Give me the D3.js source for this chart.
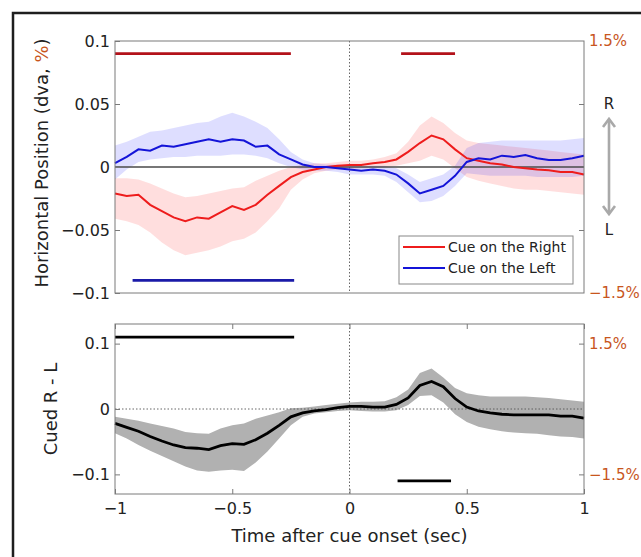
<!DOCTYPE html>
<html>
<head>
<meta charset="utf-8">
<script src="https://cdn.jsdelivr.net/npm/d3@7/dist/d3.min.js"></script>
<style>
  html, body { margin: 0; padding: 0; background: #fff; }
  svg { display: block; font-family: "DejaVu Sans", sans-serif; }
</style>
</head>
<body>
<svg id="chart" width="641" height="557"></svg>
<script>
// ---------------- data ----------------
const time = d3.range(41).map(i => -1 + i * 0.05);

const rightMean = [-0.021,-0.023,-0.022,-0.030,-0.035,-0.040,-0.043,-0.040,-0.041,-0.036,-0.031,-0.034,-0.030,-0.022,-0.015,-0.008,-0.004,-0.002,0.000,0.001,0.0015,0.0015,0.003,0.004,0.006,0.012,0.019,0.025,0.022,0.014,0.007,0.005,0.003,0.002,0.000,-0.001,-0.002,-0.0025,-0.004,-0.004,-0.006];
const rightLo = [-0.041,-0.043,-0.046,-0.052,-0.060,-0.066,-0.070,-0.068,-0.066,-0.063,-0.059,-0.057,-0.052,-0.043,-0.033,-0.018,-0.010,-0.005,-0.003,-0.002,-0.002,-0.001,-0.001,0.000,0.001,0.003,0.005,0.009,0.006,-0.001,-0.008,-0.011,-0.013,-0.015,-0.017,-0.018,-0.018,-0.019,-0.020,-0.021,-0.022];
const rightHi = [-0.009,-0.009,-0.010,-0.013,-0.017,-0.021,-0.024,-0.023,-0.021,-0.019,-0.017,-0.016,-0.011,-0.007,-0.003,0.000,0.002,0.003,0.003,0.004,0.005,0.005,0.006,0.008,0.011,0.020,0.033,0.040,0.035,0.027,0.021,0.019,0.018,0.017,0.016,0.015,0.014,0.013,0.012,0.011,0.010];

const leftMean = [0.003,0.008,0.014,0.013,0.017,0.016,0.018,0.020,0.022,0.020,0.022,0.021,0.016,0.017,0.010,0.006,0.002,0.000,0.000,-0.001,-0.002,-0.003,-0.002,-0.003,-0.006,-0.013,-0.021,-0.018,-0.015,-0.007,0.004,0.007,0.006,0.009,0.008,0.0095,0.007,0.0055,0.0055,0.007,0.009];
const leftLo = [-0.010,-0.002,0.004,0.006,0.007,0.008,0.008,0.009,0.009,0.009,0.010,0.010,0.009,0.007,0.003,0.000,-0.002,-0.003,-0.003,-0.004,-0.006,-0.006,-0.006,-0.007,-0.012,-0.020,-0.028,-0.027,-0.023,-0.015,-0.005,-0.006,-0.007,-0.007,-0.007,-0.007,-0.008,-0.008,-0.008,-0.008,-0.007];
const leftHi = [0.017,0.020,0.024,0.028,0.029,0.031,0.033,0.035,0.036,0.040,0.043,0.040,0.036,0.031,0.022,0.012,0.006,0.003,0.002,0.002,0.001,0.001,0.001,0.001,-0.001,-0.006,-0.012,-0.009,-0.006,0.001,0.015,0.019,0.020,0.021,0.021,0.021,0.021,0.021,0.021,0.022,0.023];

const diffMean = [-0.022,-0.028,-0.034,-0.042,-0.049,-0.055,-0.059,-0.060,-0.062,-0.056,-0.053,-0.054,-0.047,-0.037,-0.025,-0.012,-0.006,-0.003,-0.001,0.002,0.004,0.004,0.003,0.003,0.007,0.017,0.036,0.042,0.034,0.016,0.003,-0.003,-0.006,-0.008,-0.009,-0.009,-0.009,-0.009,-0.011,-0.011,-0.014];
const diffLo = [-0.037,-0.045,-0.055,-0.064,-0.072,-0.080,-0.088,-0.094,-0.096,-0.094,-0.093,-0.095,-0.082,-0.065,-0.045,-0.025,-0.012,-0.007,-0.005,-0.003,-0.002,-0.003,-0.004,-0.004,-0.002,0.006,0.020,0.021,0.010,-0.008,-0.020,-0.027,-0.031,-0.034,-0.036,-0.037,-0.038,-0.040,-0.042,-0.043,-0.045];
const diffHi = [-0.012,-0.015,-0.018,-0.022,-0.026,-0.030,-0.035,-0.037,-0.038,-0.030,-0.025,-0.022,-0.015,-0.010,-0.005,0.001,0.002,0.004,0.006,0.008,0.010,0.011,0.011,0.012,0.018,0.030,0.055,0.062,0.048,0.032,0.024,0.021,0.019,0.019,0.019,0.019,0.018,0.017,0.015,0.013,0.011];

// significance bars: [start, end, level]
const sigRight = [[-1, -0.25, 0.09], [0.22, 0.45, 0.09]];
const sigLeft = [[-0.925, -0.236, -0.09]];
const sigDiff = [[-1, -0.236, 0.11], [0.205, 0.433, -0.11]];

const xTicks = [-1, -0.5, 0, 0.5, 1];
const topYTicks = [-0.1, -0.05, 0, 0.05, 0.1];
const botYTicks = [-0.1, 0, 0.1];
const pctTicks = [-1.5, 1.5];
const legendLabels = ["Cue on the Right", "Cue on the Left"];

// ---------------- drawing ----------------
const svg = d3.select("#chart");
const C = {
  red: "#ee1c1c", blue: "#1414d8", redSig: "#b3121a", blueSig: "#1a1aa8",
  axis: "#7a7a7a", text: "#222", orange: "#c8561e"
};

svg.append("rect").attr("width", 641).attr("height", 557).attr("fill", "#fff");
svg.append("path").attr("d", "M13,557V13H641").attr("fill", "none")
  .attr("stroke", "#1e1e1e").attr("stroke-width", 2.5);

const x = d3.scaleLinear().domain([-1, 1]).range([115, 584]);
const yT = d3.scaleLinear().domain([-0.1, 0.1]).range([293, 41]);
const yB = d3.scaleLinear().domain([-0.13, 0.13]).range([494, 324]);
const yTpct = d3.scaleLinear().domain([-1.5, 1.5]).range([293, 41]);
const yBpct = d3.scaleLinear().domain([-1.95, 1.95]).range([494, 324]);
const fmt = d3.format("~g");

function band(ys, lo, hi) {
  return d3.area().x((d, i) => x(time[i])).y0((d, i) => ys(lo[i])).y1((d, i) => ys(hi[i]))(time);
}
function line(ys, v) {
  return d3.line().x((d, i) => x(time[i])).y((d, i) => ys(v[i]))(time);
}

// ---------- top panel ----------
const topG = svg.append("g");
topG.append("path").attr("d", band(yT, rightLo, rightHi)).attr("fill", "rgb(255,0,0)").attr("fill-opacity", 0.13);
topG.append("path").attr("d", band(yT, leftLo, leftHi)).attr("fill", "rgb(0,0,255)").attr("fill-opacity", 0.13);
topG.append("line").attr("x1", x(-1)).attr("x2", x(1)).attr("y1", yT(0)).attr("y2", yT(0))
  .attr("stroke", "#4a4a4a").attr("stroke-width", 1.6);
topG.append("line").attr("x1", x(0)).attr("x2", x(0)).attr("y1", yT(0.1)).attr("y2", yT(-0.1))
  .attr("stroke", "#555").attr("stroke-width", 0.9).attr("stroke-dasharray", "1.5,2");
topG.append("path").attr("d", line(yT, rightMean)).attr("fill", "none").attr("stroke", C.red).attr("stroke-width", 2);
topG.append("path").attr("d", line(yT, leftMean)).attr("fill", "none").attr("stroke", C.blue).attr("stroke-width", 2);
sigRight.forEach(s => topG.append("line").attr("x1", x(s[0])).attr("x2", x(s[1])).attr("y1", yT(s[2])).attr("y2", yT(s[2]))
  .attr("stroke", C.redSig).attr("stroke-width", 2.6));
sigLeft.forEach(s => topG.append("line").attr("x1", x(s[0])).attr("x2", x(s[1])).attr("y1", yT(s[2])).attr("y2", yT(s[2]))
  .attr("stroke", C.blueSig).attr("stroke-width", 2.6));
topG.append("rect").attr("x", x(-1)).attr("y", yT(0.1)).attr("width", x(1) - x(-1)).attr("height", yT(-0.1) - yT(0.1))
  .attr("fill", "none").attr("stroke", C.axis).attr("stroke-width", 1);

function styleAxis(g, color, size) {
  g.select(".domain").remove();
  g.selectAll(".tick line").attr("stroke", C.axis);
  g.selectAll(".tick text").attr("fill", color).style("font-size", size + "px").style("font-family", "DejaVu Sans");
}
topG.append("g").attr("transform", `translate(${x(-1)},0)`)
  .call(d3.axisLeft(yT).tickValues(topYTicks).tickSizeInner(-5).tickSizeOuter(0).tickPadding(5).tickFormat(fmt))
  .call(g => styleAxis(g, C.text, 16));
topG.append("g").attr("transform", `translate(${x(1)},0)`)
  .call(d3.axisRight(yTpct).tickValues([-0.75, 0.75]).tickSizeInner(-5).tickSizeOuter(0).tickFormat(""))
  .call(g => styleAxis(g, C.text, 16));
topG.append("g").attr("transform", `translate(${x(1)},0)`)
  .call(d3.axisRight(yTpct).tickValues(pctTicks).tickSize(0).tickPadding(5).tickFormat(d => fmt(d) + "%"))
  .call(g => styleAxis(g, C.orange, 15));

// R / L arrow
svg.append("text").attr("x", 609).attr("y", yT(0.05)).attr("dy", "0.36em").attr("text-anchor", "middle")
  .attr("fill", C.text).style("font-size", "15px").text("R");
svg.append("text").attr("x", 609).attr("y", yT(-0.05)).attr("dy", "0.36em").attr("text-anchor", "middle")
  .attr("fill", C.text).style("font-size", "15px").text("L");
const ay1 = 119, ay2 = 214;
svg.append("line").attr("x1", 609).attr("x2", 609).attr("y1", ay1 + 1).attr("y2", ay2 - 1)
  .attr("stroke", "#a9a9a9").attr("stroke-width", 2.6);
svg.append("path").attr("d", `M603,${ay1 + 8}L609,${ay1}L615,${ay1 + 8}M603,${ay2 - 8}L609,${ay2}L615,${ay2 - 8}`)
  .attr("fill", "none").attr("stroke", "#a9a9a9").attr("stroke-width", 2.6).attr("stroke-linejoin", "miter");

// legend
const lg = svg.append("g");
lg.append("rect").attr("x", 399).attr("y", 236).attr("width", 174).attr("height", 48)
  .attr("fill", "#fff").attr("stroke", "#888").attr("stroke-width", 1);
[C.red, C.blue].forEach((c, i) => {
  const yy = 247 + i * 21;
  lg.append("line").attr("x1", 403).attr("x2", 445).attr("y1", yy).attr("y2", yy).attr("stroke", c).attr("stroke-width", 2);
  lg.append("text").attr("x", 448).attr("y", yy).attr("dy", "0.36em").attr("fill", C.text)
    .style("font-size", "14px").text(legendLabels[i]);
});

// y label top
const yl = svg.append("text").attr("transform", `translate(48,${yT(0) - 4}) rotate(-90)`)
  .attr("text-anchor", "middle").attr("fill", C.text).style("font-size", "18px");
yl.append("tspan").text("Horizontal Position (dva, ");
yl.append("tspan").attr("fill", C.orange).text("%");
yl.append("tspan").text(")");

// ---------- bottom panel ----------
const botG = svg.append("g");
botG.append("path").attr("d", band(yB, diffLo, diffHi)).attr("fill", "#b1b1b1");
botG.append("line").attr("x1", x(-1)).attr("x2", x(1)).attr("y1", yB(0)).attr("y2", yB(0))
  .attr("stroke", "#555").attr("stroke-width", 0.9).attr("stroke-dasharray", "1.5,2");
botG.append("line").attr("x1", x(0)).attr("x2", x(0)).attr("y1", yB(0.13)).attr("y2", yB(-0.13))
  .attr("stroke", "#555").attr("stroke-width", 0.9).attr("stroke-dasharray", "1.5,2");
botG.append("path").attr("d", line(yB, diffMean)).attr("fill", "none").attr("stroke", "#000").attr("stroke-width", 2.8);
sigDiff.forEach(s => botG.append("line").attr("x1", x(s[0])).attr("x2", x(s[1])).attr("y1", yB(s[2])).attr("y2", yB(s[2]))
  .attr("stroke", "#000").attr("stroke-width", 2.6));
botG.append("rect").attr("x", x(-1)).attr("y", yB(0.13)).attr("width", x(1) - x(-1)).attr("height", yB(-0.13) - yB(0.13))
  .attr("fill", "none").attr("stroke", C.axis).attr("stroke-width", 1);

botG.append("g").attr("transform", `translate(${x(-1)},0)`)
  .call(d3.axisLeft(yB).tickValues(botYTicks).tickSizeInner(-5).tickSizeOuter(0).tickPadding(5).tickFormat(fmt))
  .call(g => styleAxis(g, C.text, 16));
botG.append("g").attr("transform", `translate(${x(1)},0)`)
  .call(d3.axisRight(yBpct).tickValues(pctTicks).tickSizeInner(-5).tickSizeOuter(0).tickPadding(5).tickFormat(d => fmt(d) + "%"))
  .call(g => styleAxis(g, C.orange, 15));
botG.append("g").attr("transform", `translate(0,${yB(-0.13)})`)
  .call(d3.axisBottom(x).tickValues(xTicks).tickSizeInner(-5).tickSizeOuter(0).tickPadding(9).tickFormat(fmt))
  .call(g => styleAxis(g, C.text, 16));
botG.append("g").attr("transform", `translate(0,${yB(0.13)})`)
  .call(d3.axisTop(x).tickValues(xTicks).tickSizeInner(-5).tickSizeOuter(0).tickFormat(""))
  .call(g => styleAxis(g, C.text, 16));

svg.append("text").attr("transform", `translate(57,${yB(0)}) rotate(-90)`)
  .attr("text-anchor", "middle").attr("fill", C.text).style("font-size", "18px").text("Cued R - L");
svg.append("text").attr("x", x(0)).attr("y", 542).attr("text-anchor", "middle")
  .attr("fill", C.text).style("font-size", "18px").text("Time after cue onset (sec)");
</script>
</body>
</html>
